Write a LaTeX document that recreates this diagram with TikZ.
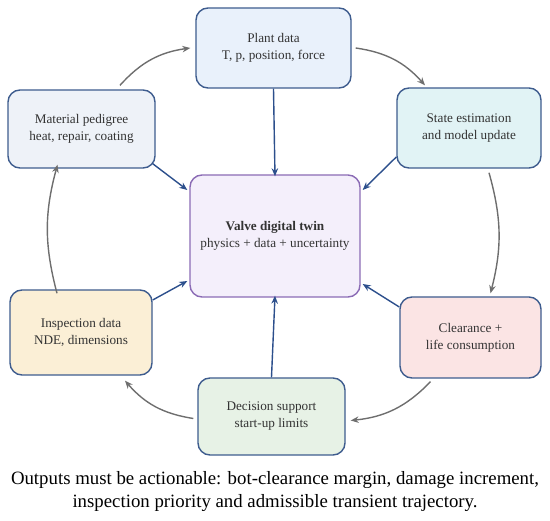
\documentclass[tikz,border=0pt]{standalone}
\usepackage{fontspec}
\setmainfont{Liberation Serif}
\usetikzlibrary{arrows.meta}
\definecolor{bordblue}{HTML}{3E5C8E}
\definecolor{arrblue}{HTML}{2C4F8C}
\definecolor{arrgray}{HTML}{6E6E6E}
\definecolor{fplant}{HTML}{E9F1FB}
\definecolor{fmat}{HTML}{EEF2F8}
\definecolor{fstate}{HTML}{E1F3F5}
\definecolor{fcenter}{HTML}{F4EFFB}
\definecolor{bcenter}{HTML}{8B6BB5}
\definecolor{finsp}{HTML}{FBEFD6}
\definecolor{fclear}{HTML}{FBE4E4}
\definecolor{fdec}{HTML}{E7F2E6}
\begin{document}
\begin{tikzpicture}[x=1pt,y=1pt,
  box/.style={draw=bordblue, line width=1.4pt, rounded corners=12pt, align=center, inner sep=0pt, font=\fontsize{13.2}{17}\selectfont, text=black!80},
  tocenter/.style={draw=arrblue, line width=1.4pt, -{Stealth[length=8pt,width=6.5pt]}},
  cyc/.style={draw=arrgray, line width=1.4pt, -{Stealth[length=8pt,width=6.5pt]}, bend left=20}]
\useasboundingbox (0,0) rectangle (550,-521);
\node[box, fill=fplant, minimum width=155pt, minimum height=80pt] (plant) at (273.5,-48) {Plant data\\T, p, position, force};
\node[box, fill=fmat, minimum width=147pt, minimum height=78pt] (mat) at (81.5,-129) {Material pedigree\\heat, repair, coating};
\node[box, fill=fstate, minimum width=144pt, minimum height=80pt] (state) at (469,-128) {State estimation\\and model update};
\node[box, draw=bcenter, fill=fcenter, minimum width=170pt, minimum height=122pt] (center) at (275,-236) {\textbf{Valve digital twin}\\physics + data + uncertainty};
\node[box, fill=finsp, minimum width=142pt, minimum height=85pt] (insp) at (81,-332.5) {Inspection data\\NDE, dimensions};
\node[box, fill=fclear, minimum width=141pt, minimum height=81pt] (clear) at (470.5,-337.5) {Clearance +\\life consumption};
\node[box, fill=fdec, minimum width=147pt, minimum height=77pt] (dec) at (271.5,-416.5) {Decision support\\start-up limits};
\node[font=\fontsize{18.8}{23}\selectfont, align=center] (cap) at (275,-492) {Outputs must be actionable: bot-clearance margin, damage increment,\\inspection priority and admissible transient trajectory.};
% blue arrows to center
\draw[tocenter] (plant.south) -- ([yshift=-2pt]center.north);
\draw[tocenter] (dec.north) -- ([yshift=2pt]center.south);
\draw[tocenter] ([shift={(-3,5)}]mat.south east) -- ([shift={(-2,46)}]center.west);
\draw[tocenter] ([yshift=-29]state.west) -- ([shift={(2,46)}]center.east);
\draw[tocenter] ([yshift=32.5]insp.east) -- ([shift={(-2,-45)}]center.west);
\draw[tocenter] ([yshift=30.5]clear.west) -- ([shift={(2,-48)}]center.east);
% cycle arrows
\draw[cyc] ([shift={(38.5,4)}]mat.north) to ([xshift=-5]plant.west);
\draw[cyc] ([xshift=4]plant.east) to ([shift={(-44,2)}]state.north);
\draw[cyc, bend left=15] ([shift={(20,-4)}]state.south) to ([shift={(20,3)}]clear.north);
\draw[cyc] ([shift={(-40,-3)}]clear.south) to ([shift={(5,-4)}]dec.east);
\draw[cyc] ([shift={(-4,-2)}]dec.west) to ([shift={(44,-5)}]insp.south);
\draw[cyc, bend left=15] ([shift={(-24,-4)}]insp.north) to ([shift={(-24,4)}]mat.south);
\end{tikzpicture}
\end{document}
